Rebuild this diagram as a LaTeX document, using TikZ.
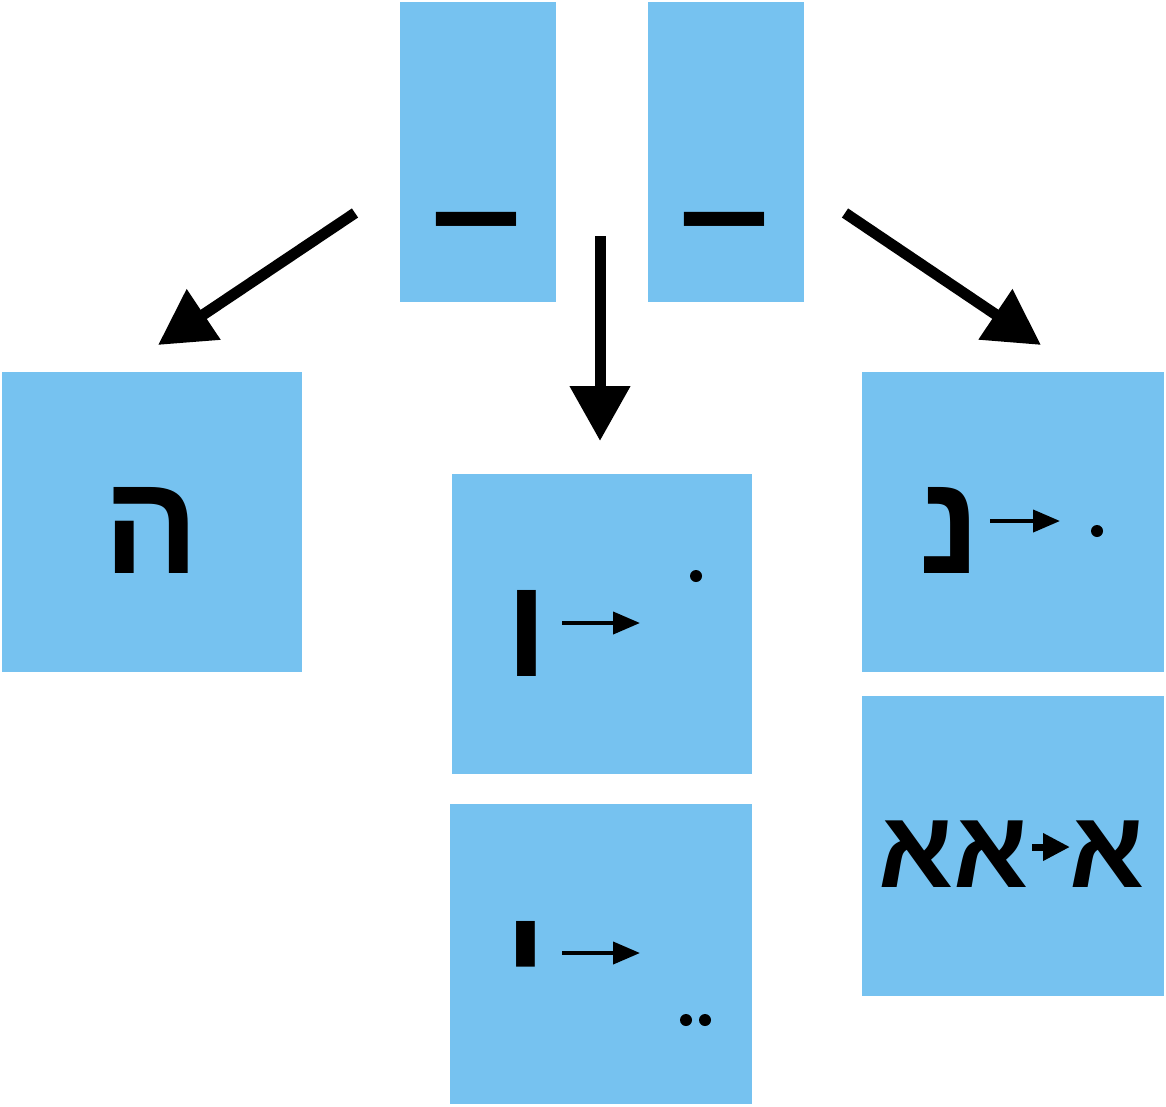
\documentclass[tikz,border=0pt]{standalone}
\usepackage{fontspec}
\usetikzlibrary{arrows.meta}
\newfontfamily\hebfont[Script=Hebrew]{Liberation Sans}
\TeXXeTstate=1
\definecolor{boxblue}{RGB}{118,194,240}

\begin{document}
\begin{tikzpicture}[x=1pt, y=-1pt]
        \tikzstyle{box}=[fill=boxblue,minimum width=300pt,minimum height=300pt,inner sep=0pt]
        \tikzstyle{tall}=[fill=boxblue,minimum width=156pt,minimum height=300pt,inner sep=0pt]
        \tikzstyle{letter}=[inner sep=0pt,anchor=base,font=\hebfont\bfseries\fontsize{142}{142}\selectfont]
        \tikzstyle{small letter}=[inner sep=0pt,anchor=base,font=\hebfont\bfseries\fontsize{110}{110}\selectfont]
        \tikzstyle{vowel}=[circle,fill=black,minimum size=12pt,inner sep=0pt]
        \tikzstyle{big arrow}=[line width=11pt,-{Triangle[length=55pt,width=58pt]}]
        \tikzstyle{small arrow}=[line width=4pt,-{Triangle[length=27pt,width=22pt]}]

        \useasboundingbox (0,0) rectangle (1166,1106);

        \node[tall] (M_1) at (478,152) {};
        \node[tall] (M_2) at (726,152) {};
        \node[box] (H) at (152,522) {};
        \node[box] (V) at (602,624) {};
        \node[box,minimum width=302pt] (Y) at (601,954) {};
        \node[box,minimum width=302pt] (N) at (1013,522) {};
        \node[box,minimum width=302pt] (A) at (1013,846) {};

        \node[letter] (Q_1) at (477,257) {\scalebox{1.14}[1]{–}};
        \node[letter] (Q_2) at (725,257) {\scalebox{1.14}[1]{–}};
        \node[letter] (H_t) at (151,573) {ה};
        \node[letter] (V_t) at (527,676) {ו};
        \node[letter] (Y_t) at (526,1007) {י};
        \node[letter] (N_t) at (950,573) {נ};
        \node[small letter] (A_1) at (954,887) {\beginR אא\endR};
        \node[small letter] (A_2) at (1107,887) {א};

        \node[vowel] (V_d) at (696,576) {};
        \node[vowel] (Y_d1) at (686,1020) {};
        \node[vowel] (Y_d2) at (705,1020) {};
        \node[vowel] (N_d) at (1097,531) {};

        \coordinate (L_s) at (355,213); \coordinate (L_e) at (158,345);
        \coordinate (C_s) at (600,236); \coordinate (C_e) at (600,441);
        \coordinate (R_s) at (845,213); \coordinate (R_e) at (1041,345);
        \draw[big arrow] (L_s) -- (L_e);
        \draw[big arrow] (C_s) -- (C_e);
        \draw[big arrow] (R_s) -- (R_e);

        \coordinate (V_a) at (562,623); \coordinate (V_b) at (640,623);
        \coordinate (Y_a) at (562,953); \coordinate (Y_b) at (640,953);
        \coordinate (N_a) at (990,521); \coordinate (N_b) at (1060,521);
        \coordinate (A_a) at (1032,847); \coordinate (A_b) at (1070,847);
        \draw[small arrow] (V_a) -- (V_b);
        \draw[small arrow] (Y_a) -- (Y_b);
        \draw[small arrow] (N_a) -- (N_b);
        \draw[small arrow,line width=7pt,-{Triangle[length=27pt,width=26pt]}] (A_a) -- (A_b);
    \end{tikzpicture}
\end{document}
